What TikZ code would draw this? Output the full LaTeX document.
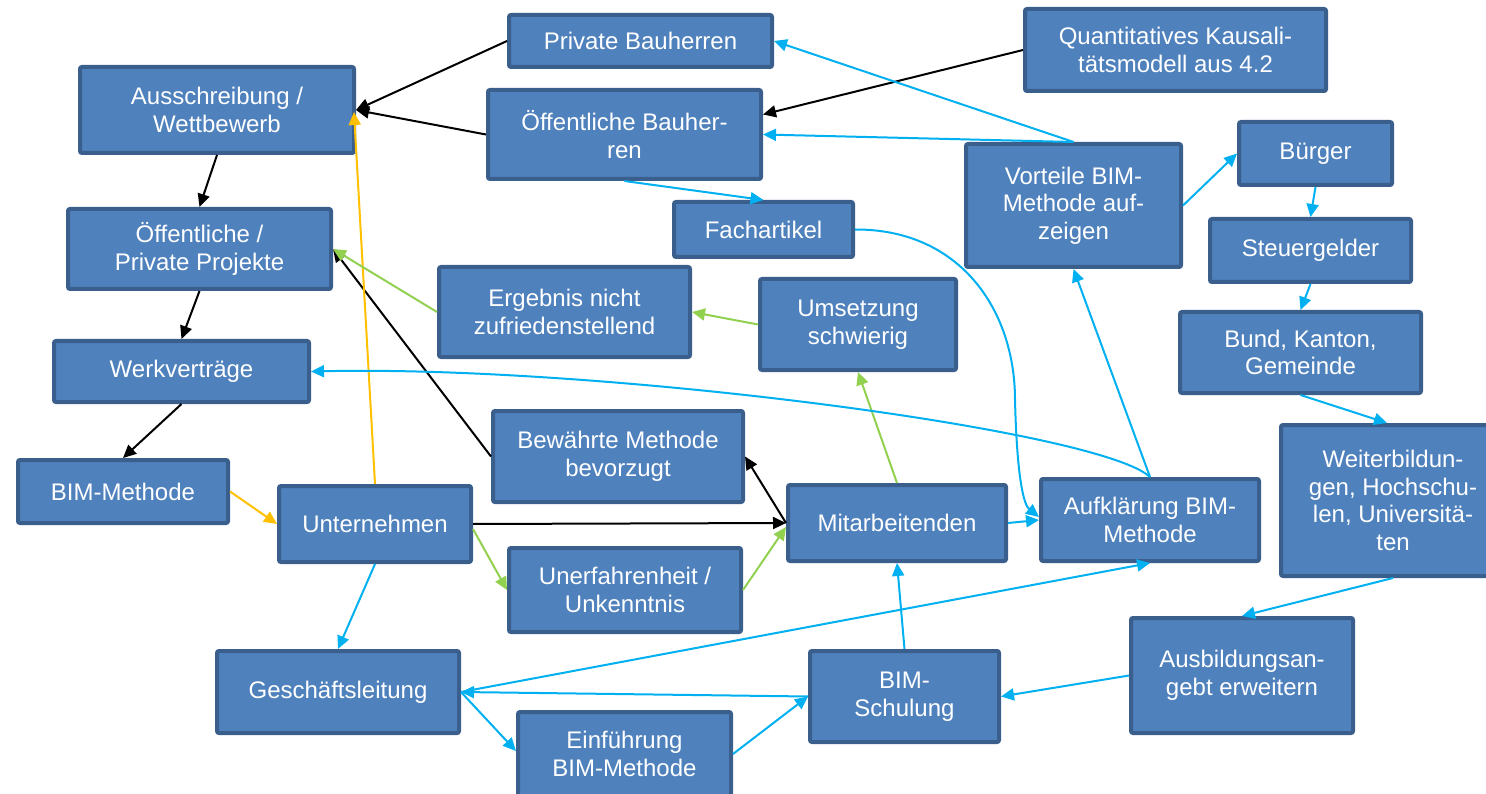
\documentclass[tikz,border=0pt]{standalone}
\usepackage{fontspec}
\setmainfont{Liberation Sans}
\usetikzlibrary{arrows.meta}
\definecolor{boxfill}{HTML}{4F81BD}
\definecolor{boxline}{HTML}{3A5F8C}
\definecolor{linkblue}{HTML}{00B0F0}
\definecolor{linkgreen}{HTML}{92D050}
\definecolor{linkyellow}{HTML}{FFC000}
\begin{document}
\begin{tikzpicture}[x=1pt,y=-1pt,
    box/.style={draw=boxline,fill=boxfill,line width=4pt,rounded corners=2pt,
        text=white,align=center,inner sep=0pt,
        font=\fontsize{24}{27.5}\selectfont},
    link/.style={line width=2pt,-{Triangle[length=13pt,width=12pt]}},
    blk/.style={link,black},
    blu/.style={link,linkblue},
    grn/.style={link,linkgreen},
    ylw/.style={link,linkyellow}]
    \useasboundingbox (0,0) rectangle (1486,794);
    % boxes
    \node[box,minimum width=274pt,minimum height=86pt] (aus) at (217,110) {Ausschreibung /\\Wettbewerb};
    \node[box,minimum width=263pt,minimum height=80pt] (opp) at (199.5,249) {Öffentliche /\\Private Projekte};
    \node[box,minimum width=255pt,minimum height=61pt] (werk) at (181.5,371.5) {Werkverträge};
    \node[box,minimum width=210pt,minimum height=63pt] (bim) at (123,491.5) {BIM-Methode};
    \node[box,minimum width=192pt,minimum height=76pt] (unt) at (375,524) {Unternehmen};
    \node[box,minimum width=263pt,minimum height=52pt] (privb) at (640.5,41) {Private Bauherren};
    \node[box,minimum width=273pt,minimum height=89pt] (oeffb) at (624.5,134.5) {Öffentliche Bauher-\\ren};
    \node[box,minimum width=179pt,minimum height=55pt] (fach) at (763.5,229.5) {Fachartikel};
    \node[box,minimum width=301pt,minimum height=82pt] (quant) at (1175.5,50) {Quantitatives Kausali-\\tätsmodell aus 4.2};
    \node[box,minimum width=215pt,minimum height=123pt] (vort) at (1073.5,205.5) {Vorteile BIM-\\Methode auf-\\zeigen};
    \node[box,minimum width=153pt,minimum height=63pt] (buerg) at (1315.5,153.5) {Bürger};
    \node[box,minimum width=201pt,minimum height=63pt] (steuer) at (1310.5,250.5) {Steuergelder};
    \node[box,minimum width=241pt,minimum height=81pt] (bund) at (1300.5,352.5) {Bund, Kanton,\\Gemeinde};
    \node[box,minimum width=224pt,minimum height=151pt] (weiter) at (1393,500.5) {Weiterbildun-\\gen, Hochschu-\\len, Universitä-\\ten};
    \node[box,minimum width=251pt,minimum height=90pt] (erg) at (564.5,312) {Ergebnis nicht\\zufriedenstellend};
    \node[box,minimum width=196pt,minimum height=91pt] (ums) at (858,324.5) {Umsetzung\\schwierig};
    \node[box,minimum width=250pt,minimum height=91pt] (bew) at (618,456.5) {Bewährte Methode\\bevorzugt};
    \node[box,minimum width=218pt,minimum height=76pt] (mit) at (897,523) {Mitarbeitenden};
    \node[box,minimum width=232pt,minimum height=84pt] (unerf) at (625,590) {Unerfahrenheit /\\Unkenntnis};
    \node[box,minimum width=218pt,minimum height=82pt] (auf) at (1150,520) {Aufklärung BIM-\\Methode};
    \node[box,minimum width=242pt,minimum height=82pt] (gesch) at (338,692) {Geschäftsleitung};
    \node[box,minimum width=213pt,minimum height=84pt] (einf) at (624.5,754) {Einführung\\BIM-Methode};
    \node[box,minimum width=189pt,minimum height=91pt] (schul) at (904.5,696.5) {BIM-\\Schulung};
    \node[box,minimum width=222pt,minimum height=115pt] (ausb) at (1242,675.5) {Ausbildungsan-\\gebt erweitern};
    % black links
    \draw[blk] (privb.west) -- (aus.east);
    \draw[blk] (oeffb.west) -- (aus.east);
    \draw[blk] (quant.west) -- ([yshift=20pt]oeffb.east);
    \draw[blk] (aus.south) -- (opp.north);
    \draw[blk] (opp.south) -- (werk.north);
    \draw[blk] (werk.south) -- (bim.north);
    \draw[blk] (bew.west) -- (opp.east);
    \draw[blk] (unt.east) -- (mit.west);
    \draw[blk] (mit.west) -- (bew.east);
    % yellow links
    \draw[ylw] (bim.east) -- (unt.west);
    \draw[ylw] (unt.north) -- ([xshift=-2pt,yshift=-2pt]aus.east);
    % green links
    \draw[grn] (erg.west) -- (opp.east);
    \draw[grn] (ums.west) -- (erg.east);
    \draw[grn] (mit.north) -- (ums.south);
    \draw[grn] ([yshift=-5pt]unt.east) -- (unerf.west);
    \draw[grn] (unerf.east) -- ([yshift=-4pt]mit.west);
    % blue links
    \draw[blu] (oeffb.south) -- (fach.north);
    \draw[blu] (vort.north) -- (privb.east);
    \draw[blu] (vort.north) -- (oeffb.east);
    \draw[blu] (vort.east) -- (buerg.west);
    \draw[blu] (buerg.south) -- (steuer.north);
    \draw[blu] (steuer.south) -- (bund.north);
    \draw[blu] (bund.south) -- ([xshift=-6pt]weiter.north);
    \draw[blu] (weiter.south) -- (ausb.north);
    \draw[blu] (ausb.west) -- (schul.east);
    \draw[blu] (schul.north) -- (mit.south);
    \draw[blu] (fach.east) .. controls (960,229) and (1015,310) .. (1015,400)
        .. controls (1017,480) and (1024,505) .. ([yshift=3pt]auf.west);
    \draw[blu] (mit.east) -- (auf.west);
    \draw[blu] (auf.north) -- (vort.south);
    \draw[blu] (auf.north) .. controls (1100,430) and (600,365) .. (werk.east);
    \draw[blu] (gesch.east) -- (auf.south);
    \draw[blu] (schul.west) -- (gesch.east);
    \draw[blu] (unt.south) -- (gesch.north);
    \draw[blu] (gesch.east) -- ([yshift=3pt]einf.west);
    \draw[blu] (einf.east) -- (schul.west);
\end{tikzpicture}
\end{document}
